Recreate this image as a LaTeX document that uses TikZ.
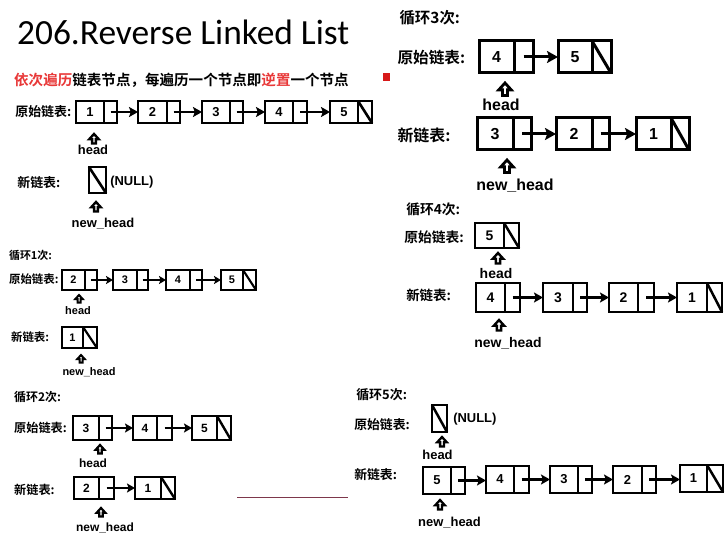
\documentclass[tikz,border=0pt]{standalone}
\usepackage{fontspec}
\usetikzlibrary{arrows.meta}
\setmainfont{Liberation Sans}
\newfontfamily\cjkb{Noto Sans CJK SC Bold}
\newfontfamily\titlef{Carlito}
\newcommand{\fs}[1]{\fontsize{#1}{#1}\selectfont}
\definecolor{hlred}{RGB}{232,56,56}
\definecolor{sqred}{RGB}{215,25,25}
\definecolor{lineplum}{RGB}{125,55,75}
\tikzset{
  lnode/.style={draw, inner sep=0pt, outer sep=0pt},
  cn/.style={anchor=west, inner sep=0pt, font={\cjkb\fs{#1}}},
  lat/.style={inner sep=0pt, text depth=0pt, font={\bfseries\fs{#1}}},
  num/.style={inner sep=0pt, font={\bfseries\fs{13}}},
  link/.style={-{Stealth[length=8bp,width=9bp,inset=1.5bp]}},
}
% name, left, top, right, bottom, divider, text
\newcommand{\lbox}[7]{%
  \node[lnode, anchor=north west, minimum width={(#4-#2)*1bp}, minimum height={(#5-#3)*1bp}] (#1) at (#2,#3) {};
  \draw (#6,#3) -- (#6,#5);
  \node[num] (#1t) at ({(#2+#6)/2},{(#3+#5)/2}) {#7};
  \coordinate (#1p) at ({(#6+#4)/2},{(#3+#5)/2});
}
\newcommand{\lnull}[7]{%
  \node[lnode, anchor=north west, minimum width={(#4-#2)*1bp}, minimum height={(#5-#3)*1bp}] (#1) at (#2,#3) {};
  \draw (#6,#3) -- (#6,#5);
  \draw (#6,#3) -- (#4,#5);
  \node[num] (#1t) at ({(#2+#6)/2},{(#3+#5)/2}) {#7};
}
% hollow up arrow: centre x, top y, size
\newcommand{\uparr}[3]{%
  \filldraw[fill=white, line join=miter, miter limit=3]
    (#1,#2) -- ({#1-#3/2},{#2+#3*0.55}) -- ({#1-#3*0.2},{#2+#3*0.55})
    -- ({#1-#3*0.2},{#2+#3}) -- ({#1+#3*0.2},{#2+#3})
    -- ({#1+#3*0.2},{#2+#3*0.55}) -- ({#1+#3/2},{#2+#3*0.55}) -- cycle;
}
\begin{document}
\begin{tikzpicture}[x=1bp,y=-1bp]
\useasboundingbox (0,0) rectangle (725,540);

\node[anchor=base west, inner sep=0pt, font={\titlef\fs{35.5}}] (title) at (17,45) {206.Reverse Linked List};
\node[cn=14.6] (intro) at (14,80) {\textcolor{hlred}{依次遍历}链表节点，每遍历一个节点即\textcolor{hlred}{逆置}一个节点};
\fill[sqred] (383,73) rectangle (390,81);

% ---------- initial ----------
\begin{scope}[line width=2.6bp, num/.style={inner sep=0pt, font={\bfseries\fs{13}}}, link/.style={-{Stealth[length=9bp,width=10bp,inset=1.8bp]}}]
\node[cn=13] (o0) at (14,112) {原始链表:};
\lbox{a1}{76}{101}{117}{123}{104}{1}
\lbox{a2}{138}{101}{180}{123}{167}{2}
\lbox{a3}{202}{101}{243}{123}{230}{3}
\lbox{a4}{265}{101}{307}{123}{293}{4}
\lnull{a5}{330}{101}{372}{123}{358}{5}
\draw[link] (a1p) -- (a2);
\draw[link] (a2p) -- (a3);
\draw[link] (a3p) -- (a4);
\draw[link] (a4p) -- (a5);
\begin{scope}[line width=2.4bp]
\uparr{94}{134}{9.5}
\uparr{96}{202}{9.5}
\end{scope}
\node[lat=13] (h0) at (93,150) {head};
\node[cn=13] (n0) at (16,183) {新链表:};
\node[lnode, anchor=north west, minimum width=17bp, minimum height=26bp] (z0) at (89,167) {};
\draw (z0.north west) -- (z0.south east);
\node[lat=13, anchor=west] (null0) at (109,181) {(NULL)};
\node[lat=13] (nh0) at (103,223) {new\_head};
\end{scope}

% ---------- loop 1 ----------
\begin{scope}[line width=2.1bp, num/.style={inner sep=0pt, font={\bfseries\fs{11}}}, link/.style={-{Stealth[length=7bp,width=8bp,inset=1.5bp]}}]
\node[cn=11] (t1) at (8,255) {循环1次:};
\node[cn=11.5] (o1) at (8,279) {原始链表:};
\lbox{b2}{62}{270}{97}{290}{85}{2}
\lbox{b3}{113}{270}{148}{290}{137}{3}
\lbox{b4}{166}{270}{202}{290}{190}{4}
\lnull{b5}{221}{270}{256}{290}{243}{5}
\draw[link] (b2p) -- (b3);
\draw[link] (b3p) -- (b4);
\draw[link] (b4p) -- (b5);
\begin{scope}[line width=2bp]
\uparr{79}{295}{7.5}
\uparr{81}{355}{7.5}
\end{scope}
\node[lat=11] (h1) at (78,311) {head};
\node[cn=11.5] (n1) at (10,337) {新链表:};
\lnull{b1}{62}{327}{97}{348}{83}{1}
\node[lat=11] (nh1) at (89,372) {new\_head};
\end{scope}

% ---------- loop 2 ----------
\begin{scope}[line width=2.4bp, num/.style={inner sep=0pt, font={\bfseries\fs{12}}}, link/.style={-{Stealth[length=8bp,width=9bp,inset=1.6bp]}}]
\node[cn=12] (t2) at (13,397) {循环2次:};
\node[cn=12.2] (o2) at (13,428) {原始链表:};
\lbox{c3}{73}{416}{112}{440}{99}{3}
\lbox{c4}{133}{416}{172}{440}{157}{4}
\lnull{c5}{192}{416}{231}{440}{217}{5}
\draw[link] (c3p) -- (c4);
\draw[link] (c4p) -- (c5);
\begin{scope}[line width=2.2bp]
\uparr{100}{445}{8.5}
\uparr{101}{508}{8.5}
\end{scope}
\node[lat=12] (h2) at (93,463) {head};
\node[cn=12.2] (n2) at (13,490) {新链表:};
\lbox{c2}{74}{477}{114}{499}{99}{2}
\lnull{c1}{135}{477}{175}{499}{161}{1}
\draw[link] (c2p) -- (c1);
\node[lat=12] (nh2) at (105,527) {new\_head};
\end{scope}
\draw[lineplum, line width=0.8bp] (237,497) -- (348,497);

% ---------- loop 3 ----------
\begin{scope}[line width=3bp, num/.style={inner sep=0pt, font={\bfseries\fs{16}}}, link/.style={-{Stealth[length=11bp,width=12bp,inset=2.2bp]}}]
\node[cn=15.5] (t3) at (398,18) {循环3次:};
\node[cn=15.7] (o3) at (396,58) {原始链表:};
\lbox{d4}{479}{41}{533}{73}{514}{4}
\lnull{d5}{558}{41}{611}{73}{592}{5}
\draw[link] (d4p) -- (d5);
\begin{scope}[line width=2.8bp]
\uparr{505}{83}{12.5}
\uparr{507}{160}{12.5}
\end{scope}
\node[lat=16] (h3) at (501,105) {head};
\node[cn=16] (n3) at (396,135) {新链表:};
\lbox{d3}{477}{118}{531}{150}{513}{3}
\lbox{d2}{556}{118}{609}{150}{592}{2}
\lnull{d1}{636}{118}{689}{150}{671}{1}
\draw[link] (d3p) -- (d2);
\draw[link] (d2p) -- (d1);
\node[lat=16] (nh3) at (515,185) {new\_head};
\end{scope}

% ---------- loop 4 ----------
\begin{scope}[line width=2.5bp, num/.style={inner sep=0pt, font={\bfseries\fs{14}}}, link/.style={-{Stealth[length=9bp,width=10bp,inset=1.8bp]}}]
\node[cn=13.8] (t4) at (405,209) {循环4次:};
\node[cn=13.8] (o4) at (403,237) {原始链表:};
\lnull{e5}{475}{223}{519}{248}{504}{5}
\begin{scope}[line width=2.4bp]
\uparr{498}{253}{10.5}
\uparr{499}{320}{10.5}
\end{scope}
\node[lat=14] (h4) at (496,273) {head};
\node[cn=13.5] (n4) at (405,295) {新链表:};
\lbox{e4}{476}{283}{520}{312}{505}{4}
\lbox{e3}{543}{283}{587}{312}{573}{3}
\lbox{e2}{609}{283}{654}{312}{638}{2}
\lnull{e1}{677}{283}{722}{312}{707}{1}
\draw[link] (e4p) -- (e3);
\draw[link] (e3p) -- (e2);
\draw[link] (e2p) -- (e1);
\node[lat=14] (nh4) at (508,342) {new\_head};
\end{scope}

% ---------- loop 5 ----------
\begin{scope}[line width=2.5bp, num/.style={inner sep=0pt, font={\bfseries\fs{13}}}, link/.style={-{Stealth[length=9bp,width=10bp,inset=1.8bp]}}]
\node[cn=13] (t5) at (355,395) {循环5次:};
\node[cn=12.9] (o5) at (353,425) {原始链表:};
\node[lnode, anchor=north west, minimum width=15bp, minimum height=27bp] (z5) at (432,405) {};
\draw (z5.north west) -- (z5.south east);
\node[lat=13, anchor=west] (null5) at (452,418) {(NULL)};
\begin{scope}[line width=2.3bp]
\uparr{442}{437}{9.5}
\uparr{440}{500}{9.5}
\end{scope}
\node[lat=13] (h5) at (437.5,455) {head};
\node[cn=12.9] (n5) at (353,475) {新链表:};
\lbox{f5}{423}{467}{465}{494}{451}{5}
\lbox{f4}{486}{466}{529}{493}{514}{4}
\lbox{f3}{550}{466}{592}{493}{578}{3}
\lbox{f2}{613}{466}{656}{493}{642}{2}
\lnull{f1}{680}{465}{723}{492}{707}{1}
\draw[link] (f5p) -- (f5p -| f4.west);
\draw[link] (f4p) -- (f4p -| f3.west);
\draw[link] (f3p) -- (f3p -| f2.west);
\draw[link] (f2p) -- (f2p -| f1.west);
\node[lat=13] (nh5) at (449.5,522) {new\_head};
\end{scope}
\end{tikzpicture}
\end{document}
